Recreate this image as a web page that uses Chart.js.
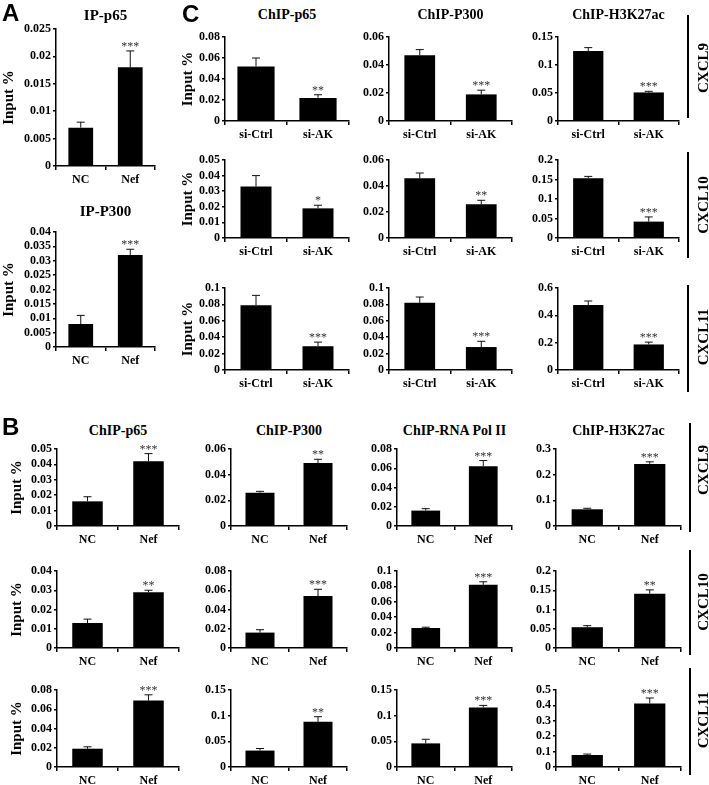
<!DOCTYPE html>
<html>
<head>
<meta charset="utf-8">
<script src="https://cdn.jsdelivr.net/npm/chart.js@4.4.1/dist/chart.umd.min.js"></script>
<style>
    body { margin: 0; background: #fff; }
    #fig { position: relative; width: 709px; height: 785px; overflow: hidden; background: #fff; }
    .cv { position: absolute; }
    .title { position: absolute; font: bold 14px "Liberation Serif", serif; line-height: 16px; transform: translateX(-50%); white-space: nowrap; color: #000; }
    .title.big { font-size: 15px; }
    .letter { position: absolute; font: bold 24px "Liberation Sans", sans-serif; line-height: 24px; color: #000; }
    .gene { position: absolute; font: bold 15px "Liberation Serif", serif; line-height: 16px; transform: translate(-50%, -50%) rotate(-90deg); white-space: nowrap; color: #000; }
    .bracket { position: absolute; width: 0; border-left: 2px solid #000; }
</style>
</head>
<body>
<div id="fig"></div>
<script>
// ---- data ----
const groupsNef = ["NC", "Nef"];
const groupsKd = ["si-Ctrl", "si-AK"];
const genes = ["CXCL9", "CXCL10", "CXCL11"];

// A: co-IP
const titlesA = ["IP-p65", "IP-P300"];
const meanA = [[0.007, 0.018], [0.008, 0.032]];
const errA = [[0.001, 0.003], [0.003, 0.002]];
const starsA = [["", "***"], ["", "***"]];
const maxA = [0.025, 0.04];
const stepA = [0.005, 0.005];

// C: knockdown ChIP (rows = genes, cols = antibodies)
const titlesC = ["ChIP-p65", "ChIP-P300", "ChIP-H3K27ac"];
const meanC = [
    [[0.052, 0.022], [0.047, 0.019], [0.125, 0.051]],
    [[0.033, 0.019], [0.046, 0.026], [0.153, 0.042]],
    [[0.079, 0.029], [0.082, 0.028], [0.475, 0.187]],
];
const errC = [
    [[0.008, 0.003], [0.004, 0.003], [0.006, 0.002]],
    [[0.007, 0.002], [0.004, 0.003], [0.005, 0.012]],
    [[0.012, 0.005], [0.007, 0.007], [0.03, 0.017]],
];
const starsC = [
    [["", "**"], ["", "***"], ["", "***"]],
    [["", "*"], ["", "**"], ["", "***"]],
    [["", "***"], ["", "***"], ["", "***"]],
];
const maxC = [[0.08, 0.06, 0.15], [0.05, 0.06, 0.2], [0.1, 0.1, 0.6]];
const stepC = [[0.02, 0.02, 0.05], [0.01, 0.02, 0.05], [0.02, 0.02, 0.2]];

// B: Nef ChIP (rows = genes, cols = antibodies)
const titlesB = ["ChIP-p65", "ChIP-P300", "ChIP-RNA Pol II", "ChIP-H3K27ac"];
const meanB = [
    [[0.016, 0.042], [0.026, 0.049], [0.016, 0.062], [0.065, 0.242]],
    [[0.013, 0.029], [0.016, 0.054], [0.026, 0.082], [0.054, 0.141]],
    [[0.019, 0.069], [0.032, 0.088], [0.046, 0.116], [0.078, 0.413]],
];
const errB = [
    [[0.003, 0.005], [0.001, 0.003], [0.002, 0.006], [0.004, 0.008]],
    [[0.002, 0.001], [0.003, 0.007], [0.001, 0.004], [0.004, 0.010]],
    [[0.002, 0.006], [0.004, 0.010], [0.008, 0.004], [0.006, 0.035]],
];
const starsB = [
    [["", "***"], ["", "**"], ["", "***"], ["", "***"]],
    [["", "**"], ["", "***"], ["", "***"], ["", "**"]],
    [["", "***"], ["", "**"], ["", "***"], ["", "***"]],
];
const maxB = [[0.05, 0.06, 0.08, 0.3], [0.04, 0.08, 0.1, 0.2], [0.08, 0.15, 0.15, 0.5]];
const stepB = [[0.01, 0.02, 0.02, 0.1], [0.01, 0.02, 0.02, 0.05], [0.02, 0.05, 0.05, 0.1]];

// ---- layout (plot area edges in page pixels) ----
const areaA = [[56, 155, 29, 166], [56, 155, 232, 347]];
const titleYA = [15, 211];
const colC = [[225, 349], [389, 512], [558, 679]];
const rowC = [[37, 121], [160, 238], [288, 370]];
const colB = [[57, 179], [231, 347], [397, 512], [556, 681]];
const rowB = [[449, 526], [571, 648], [690, 767]];
const bracketC = [[15, 118], [152, 258], [285, 392]];
const geneYC = [68, 205, 337];
const bracketB = [[423, 532], [550, 655], [668, 775]];
const geneYB = [470, 602, 720];

const fig = document.getElementById("fig");
const serif = "'Liberation Serif', 'Times New Roman', serif";

const errorBarPlugin = {
    id: "errorBars",
    afterDatasetsDraw(chart) {
        const ctx = chart.ctx;
        const yScale = chart.scales.y;
        const ds = chart.data.datasets[0];
        chart.getDatasetMeta(0).data.forEach((bar, i) => {
            const top = yScale.getPixelForValue(ds.data[i] + ds.errors[i]);
            ctx.save();
            ctx.strokeStyle = "#111";
            ctx.lineWidth = 1;
            ctx.beginPath();
            ctx.moveTo(bar.x, bar.y);
            ctx.lineTo(bar.x, top);
            ctx.moveTo(bar.x - 4, top);
            ctx.lineTo(bar.x + 4, top);
            ctx.stroke();
            if (ds.stars[i]) {
                ctx.fillStyle = "#333";
                ctx.font = `12px ${serif}`;
                ctx.textAlign = "center";
                ctx.textBaseline = "alphabetic";
                ctx.fillText(ds.stars[i], bar.x, top - 1);
            }
            ctx.restore();
        });
    },
};

function addText(cls, text, x, y) {
    const el = document.createElement("div");
    el.className = cls;
    el.textContent = text;
    el.style.left = x + "px";
    el.style.top = y + "px";
    fig.appendChild(el);
}

function addBracket(x, y0, y1) {
    const el = document.createElement("div");
    el.className = "bracket";
    el.style.left = x + "px";
    el.style.top = y0 + "px";
    el.style.height = (y1 - y0) + "px";
    fig.appendChild(el);
}

function makePanel(p) {
    const padTop = 10, padRight = 6, xh = 26;
    const yw = p.titleX ? p.x0 - (p.titleX - 9) : 40;
    const w = (p.x1 - p.x0) + yw + padRight;
    const h = (p.y1 - p.y0) + padTop + xh;

    const canvas = document.createElement("canvas");
    canvas.className = "cv";
    canvas.width = w;
    canvas.height = h;
    canvas.style.left = (p.x0 - yw) + "px";
    canvas.style.top = (p.y0 - padTop) + "px";
    canvas.style.width = w + "px";
    canvas.style.height = h + "px";
    fig.appendChild(canvas);

    new Chart(canvas, {
        type: "bar",
        data: {
            labels: p.labels,
            datasets: [{
                data: p.mean,
                errors: p.err,
                stars: p.stars,
                backgroundColor: "#000",
                barPercentage: p.barPct || 0.5,
                categoryPercentage: 1,
            }],
        },
        options: {
            responsive: false,
            animation: false,
            devicePixelRatio: 1,
            layout: { padding: { top: padTop, right: padRight, left: 0, bottom: 0 } },
            plugins: { legend: { display: false }, tooltip: { enabled: false } },
            scales: {
                x: {
                    afterFit: (s) => { s.height = xh; },
                    ticks: { color: "#000", font: { family: serif, weight: "bold", size: 12 }, padding: 3 },
                    grid: { drawOnChartArea: false, tickLength: 4, color: "#000", lineWidth: 1.5, offset: true },
                    border: { color: "#000", width: 1.5 },
                },
                y: {
                    min: 0,
                    max: p.max,
                    afterFit: (s) => { s.width = yw; },
                    afterBuildTicks: (s) => {
                        const n = Math.round(p.max / p.step);
                        s.ticks = [];
                        for (let k = 0; k <= n; k++) {
                            s.ticks.push({ value: Number((k * p.step).toFixed(4)) });
                        }
                    },
                    ticks: {
                        autoSkip: false,
                        color: "#000",
                        font: { family: serif, weight: "bold", size: 12 },
                        padding: 2,
                        callback: (v) => String(Number(v.toFixed(4))),
                    },
                    grid: { drawOnChartArea: false, tickLength: 3, color: "#000", lineWidth: 1.5 },
                    border: { color: "#000", width: 1.5 },
                    title: {
                        display: !!p.titleX,
                        text: "Input %",
                        color: "#000",
                        font: { family: serif, weight: "bold", size: 15 },
                        padding: 0,
                    },
                },
            },
        },
        plugins: [errorBarPlugin],
    });

    addText(p.bigTitle ? "title big" : "title", p.title, (p.x0 + p.x1) / 2, p.titleY - 8);
}

// panel A
titlesA.forEach((t, i) => {
    const a = areaA[i];
    makePanel({
        x0: a[0], x1: a[1], y0: a[2], y1: a[3], titleX: 9,
        title: t, titleY: titleYA[i], bigTitle: true, labels: groupsNef,
        mean: meanA[i], err: errA[i], stars: starsA[i], max: maxA[i], step: stepA[i],
    });
});

// panel C
genes.forEach((g, r) => {
    titlesC.forEach((t, c) => {
        makePanel({
            x0: colC[c][0], x1: colC[c][1], y0: rowC[r][0], y1: rowC[r][1],
            titleX: c === 0 ? 188 : 0,
            title: r === 0 ? t : "", titleY: 15, labels: groupsKd,
            mean: meanC[r][c], err: errC[r][c], stars: starsC[r][c],
            max: maxC[r][c], step: stepC[r][c],
            barPct: r === 0 && c === 0 ? 0.6 : 0.5,
        });
    });
    addBracket(687, bracketC[r][0], bracketC[r][1]);
    addText("gene", g, 703, geneYC[r]);
});

// panel B
genes.forEach((g, r) => {
    titlesB.forEach((t, c) => {
        makePanel({
            x0: colB[c][0], x1: colB[c][1], y0: rowB[r][0], y1: rowB[r][1],
            titleX: c === 0 ? 17 : 0,
            title: r === 0 ? t : "", titleY: 431, labels: groupsNef,
            mean: meanB[r][c], err: errB[r][c], stars: starsB[r][c],
            max: maxB[r][c], step: stepB[r][c],
        });
    });
    addBracket(689, bracketB[r][0], bracketB[r][1]);
    addText("gene", g, 703, geneYB[r]);
});

addText("letter", "A", 2, 1);
addText("letter", "C", 182, 2);
addText("letter", "B", 2, 415);
</script>
</body>
</html>
